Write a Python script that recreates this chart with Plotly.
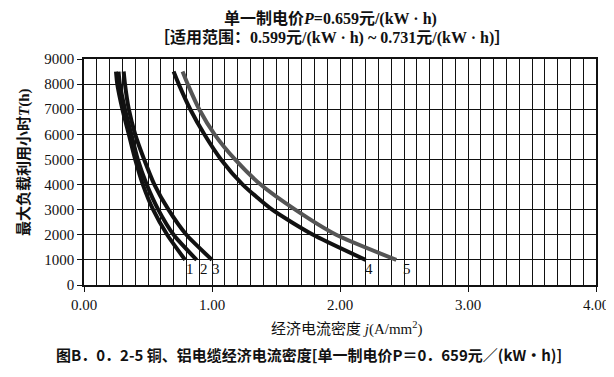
import plotly.graph_objects as go

T_hours = [8500, 8000, 7000, 6000, 5000, 4000, 3000, 2000, 1000]
curve1 = [0.25, 0.26, 0.30, 0.35, 0.40, 0.46, 0.54, 0.65, 0.79]
curve2 = [0.27, 0.28, 0.32, 0.37, 0.42, 0.49, 0.58, 0.70, 0.88]
curve3 = [0.31, 0.32, 0.35, 0.40, 0.47, 0.55, 0.66, 0.80, 1.00]
curve4 = [0.70, 0.74, 0.83, 0.94, 1.07, 1.24, 1.47, 1.79, 2.20]
curve5 = [0.77, 0.81, 0.90, 1.02, 1.18, 1.38, 1.65, 1.97, 2.44]
curve_names = ["1", "2", "3", "4", "5"]
label_x = [0.83, 0.94, 1.03, 2.23, 2.52]
label_y = [650, 650, 650, 650, 650]
x_ticks = [0, 1, 2, 3, 4]
y_ticks = [0, 1000, 2000, 3000, 4000, 5000, 6000, 7000, 8000, 9000]

curves = [curve1, curve2, curve3, curve4, curve5]
colors = ["#111111", "#111111", "#111111", "#111111", "#555555"]

SERIF = "Liberation Serif, Noto Sans CJK SC, serif"

fig = go.Figure()
for name, c, col in zip(curve_names, curves, colors):
    fig.add_trace(go.Scatter(x=c, y=T_hours, mode="lines", name=name,
                             line=dict(color=col, width=4, shape="spline", smoothing=0.6),
                             showlegend=False))

for name, lx, ly in zip(curve_names, label_x, label_y):
    fig.add_annotation(x=lx, y=ly, text=name, showarrow=False,
                       font=dict(family=SERIF, size=15, color="#111"),
                       xanchor="center", yanchor="middle")

fig.update_xaxes(range=[0, 4], tickvals=x_ticks, ticktext=[f"{v:.2f}" for v in x_ticks],
                 automargin=False,
                 showgrid=True, gridcolor="#111", gridwidth=1,
                 minor=dict(dtick=0.1, showgrid=True, gridcolor="#111", gridwidth=1),
                 showline=True, linecolor="#111", linewidth=1.5, mirror=True,
                 ticks="outside", ticklen=5, tickcolor="#111",
                 tickfont=dict(family=SERIF, size=15, color="#111"), zeroline=False)
fig.update_yaxes(range=[0, 9000], tickvals=y_ticks, automargin=False,
                 showgrid=True, gridcolor="#111", gridwidth=1,
                 showline=True, linecolor="#111", linewidth=1.5, mirror=True,
                 ticks="outside", ticklen=5, tickcolor="#111",
                 tickfont=dict(family=SERIF, size=15, color="#111"), zeroline=False)

# Titles
fig.add_annotation(xref="paper", yref="paper", x=(330 - 84) / 512, y=(285 - 19) / 226,
                   text="<b>单一制电价<i>P</i>=0.659元/(kW · h)</b>", showarrow=False,
                   font=dict(family=SERIF, size=16, color="#111"), xanchor="center", yanchor="middle")
fig.add_annotation(xref="paper", yref="paper", x=(332 - 84) / 512, y=(285 - 38) / 226,
                   text="<b>［适用范围：0.599元/(kW · h) ~ 0.731元/(kW · h)］</b>", showarrow=False,
                   font=dict(family=SERIF, size=16, color="#111"), xanchor="center", yanchor="middle")
fig.add_annotation(xref="paper", yref="paper", x=(24 - 84) / 512, y=(285 - 162) / 226,
                   text="<b>最大负载利用小时<i>T</i>(h)</b>", showarrow=False, textangle=-90,
                   font=dict(family=SERIF, size=15, color="#111"), xanchor="center", yanchor="middle")
fig.add_annotation(xref="paper", yref="paper", x=(347 - 84) / 512, y=(285 - 328) / 226,
                   text="经济电流密度 <i>j</i>(A/mm<sup>2</sup>)", showarrow=False,
                   font=dict(family=SERIF, size=15, color="#111"), xanchor="center", yanchor="middle")
fig.add_annotation(xref="paper", yref="paper", x=(309 - 84) / 512, y=(285 - 354) / 226,
                   text="<b>图B．0．2-5 铜、铝电缆经济电流密度[单一制电价P＝0．659元／(kW•h)]</b>",
                   showarrow=False,
                   font=dict(family="Noto Sans CJK SC, sans-serif", size=15, color="#111"),
                   xanchor="center", yanchor="middle")

# page body has an 8px default margin, so the figure is offset by 8px
fig.update_layout(width=606, height=369, margin=dict(l=76, r=18, t=51, b=92),
                  plot_bgcolor="white", paper_bgcolor="white")

fig.write_html("out.html")
